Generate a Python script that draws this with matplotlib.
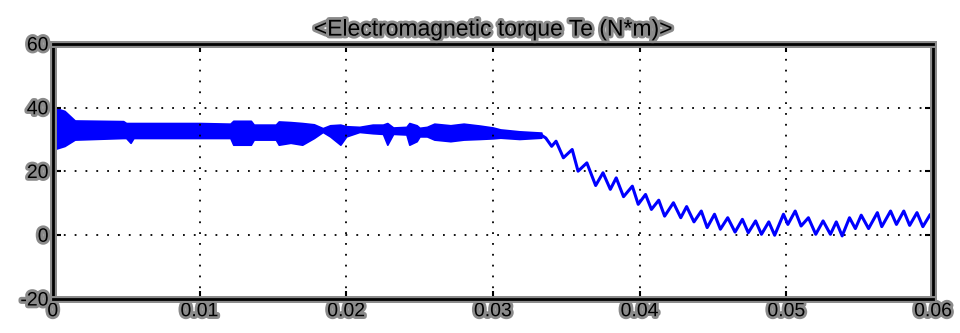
import matplotlib
matplotlib.use('Agg')
import numpy as np
import matplotlib.pyplot as plt
import matplotlib.patheffects as pe

plt.rcParams['font.family'] = ['Liberation Sans', 'DejaVu Sans']
plt.rcParams['axes.unicode_minus'] = False

# --- data ---
# t = 0 start-up spike
spike_t = [0.0, 0.0]
spike_te = [0.0, 40.0]

# dense ripple band (0 .. 0.033 s): envelope of the trace
band_t = [0.0001, 0.0008, 0.0015, 0.0048, 0.0050, 0.0053, 0.0055, 0.0100,
          0.0121, 0.0123, 0.0135, 0.0137, 0.0152, 0.0154, 0.0162, 0.0170,
          0.0178, 0.0184, 0.0189, 0.0196, 0.0200, 0.0209, 0.0218, 0.0225,
          0.0228, 0.0232, 0.0241, 0.0243, 0.0248, 0.0250, 0.0255, 0.0260,
          0.0271, 0.0280, 0.0291, 0.0300, 0.0305, 0.0318, 0.0333]
band_hi = [40.0, 39.0, 36.0, 35.8, 35.2, 35.2, 35.2, 35.2,
           35.0, 35.9, 35.9, 34.7, 34.7, 35.7, 35.5, 35.2,
           34.8, 33.6, 34.5, 34.7, 34.2, 34.0, 34.7, 34.7,
           35.2, 33.8, 34.0, 35.2, 34.5, 33.7, 34.0, 35.0,
           34.5, 35.0, 34.4, 33.8, 33.2, 32.6, 32.2]
band_lo = [27.0, 28.0, 30.0, 30.5, 30.5, 29.0, 30.5, 30.5,
           30.5, 28.4, 28.4, 30.0, 30.0, 28.4, 29.0, 28.4,
           30.5, 32.4, 31.0, 28.4, 31.0, 32.4, 32.0, 31.8,
           28.4, 31.8, 31.6, 28.4, 29.5, 31.0, 31.0, 30.0,
           29.5, 30.0, 30.2, 30.4, 30.6, 30.2, 30.6]

# torque decay with ~1.1 kHz ripple (0.033 .. 0.06 s)
wave_t = [0.0333, 0.0336, 0.0340, 0.0343, 0.0348, 0.0354, 0.0358, 0.0364,
          0.0370, 0.0375, 0.0380, 0.0384, 0.0389, 0.0395, 0.0399, 0.0404,
          0.0408, 0.0413, 0.0417, 0.0423, 0.0428, 0.0432, 0.0437, 0.0442,
          0.0446, 0.0451, 0.0455, 0.0460, 0.0465, 0.0470, 0.0474, 0.0479,
          0.0483, 0.0488, 0.0492, 0.0498, 0.0501, 0.0506, 0.0510, 0.0515,
          0.0520, 0.0525, 0.0530, 0.0534, 0.0538, 0.0543, 0.0547, 0.0551,
          0.0556, 0.0562, 0.0565, 0.0571, 0.0575, 0.0580, 0.0584, 0.0589,
          0.0593, 0.0598, 0.0600]
wave_te = [31.4, 30.5, 27.9, 29.5, 24.3, 26.9, 20.1, 22.7,
           15.6, 19.6, 14.4, 18.0, 12.1, 15.4, 9.7, 12.8,
           8.1, 11.0, 6.0, 10.2, 5.5, 9.0, 4.2, 7.6,
           2.4, 6.6, 1.9, 5.5, 1.0, 5.0, 0.8, 4.5,
           0.3, 4.2, 0.0, 6.6, 3.4, 7.6, 2.9, 5.5,
           0.3, 4.5, 0.3, 4.2, -0.2, 5.5, 2.1, 6.3,
           2.1, 7.1, 2.7, 7.6, 3.4, 7.6, 3.1, 7.1,
           2.7, 6.5, 5.0]

x_ticks = [0, 0.01, 0.02, 0.03, 0.04, 0.05, 0.06]
x_labels = ['0', '0.01', '0.02', '0.03', '0.04', '0.05', '0.06']
y_ticks = [-20, 0, 20, 40, 60]

# --- figure ---
fig = plt.figure(figsize=(9.6, 3.33), dpi=100)
ax = fig.add_axes([0.055, 0.102, 0.917, 0.766])

halo = [pe.withStroke(linewidth=4, foreground='#8a8a8a')]

blue = '#0000ff'
ax.fill_between(band_t, band_lo, band_hi, color=blue, lw=1.2, edgecolor=blue)
ax.plot(spike_t, spike_te, color=blue, lw=2)
ax.plot(wave_t, wave_te, color=blue, lw=2.2, solid_joinstyle='round')

ax.set_xlim(0, 0.06)
ax.set_ylim(-20, 60)
ax.set_xticks(x_ticks)
ax.set_xticklabels(x_labels)
ax.set_yticks(y_ticks)

ax.grid(True, color='black', linestyle=(0, (1, 5)), linewidth=1.3)
ax.tick_params(direction='in', length=6, width=1.5, top=True, right=True,
               labelsize=14, colors='black', pad=3)
for lab in ax.get_xticklabels() + ax.get_yticklabels():
    lab.set_path_effects(halo)

for side, sp in ax.spines.items():
    sp.set_linewidth(2)
    sp.set_color('black')
    sp.set_path_effects([pe.withStroke(linewidth=5, foreground='#8a8a8a')])

ax.set_title('<Electromagnetic torque Te (N*m)>', fontsize=16.5, pad=6,
             path_effects=halo)

fig.savefig('out.png', dpi=100)
